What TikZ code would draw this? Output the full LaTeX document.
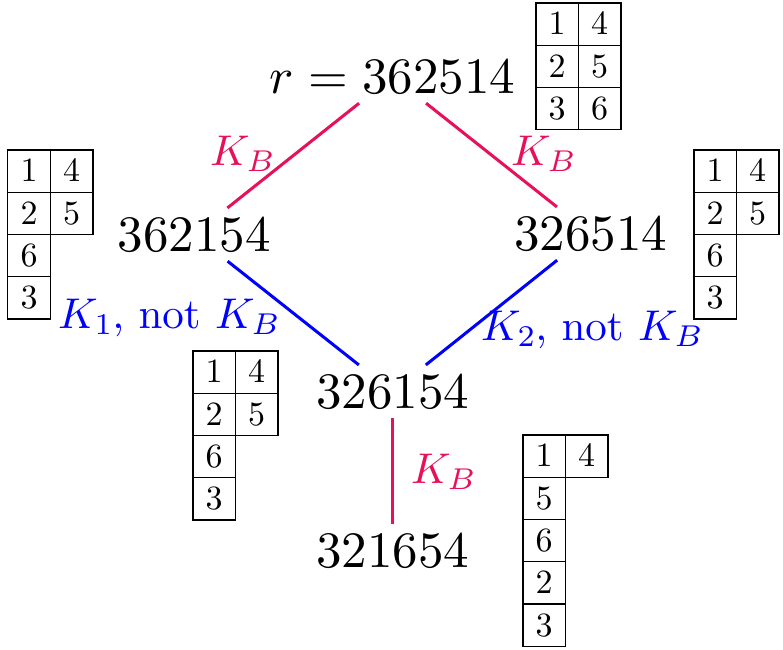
\documentclass[tikz,border=0pt]{standalone}
\usepackage[OT1]{fontenc}
\renewcommand\rmdefault{cmr}
\DeclareFontShape{OT1}{cmr}{m}{n}{<-32>cmr7<32->cmr10}{}
\DeclareFontShape{OML}{cmm}{m}{it}{<-32>cmmi7<32->cmmi10}{}
\DeclareFontShape{OMS}{cmsy}{m}{n}{<-32>cmsy7<32->cmsy10}{}
\DeclareFontShape{OMX}{cmex}{m}{n}{<->cmex10}{}
\usetikzlibrary{matrix}
\definecolor{kb}{RGB}{232,16,88}
\definecolor{kone}{RGB}{0,0,255}
\begin{document}
\begin{tikzpicture}[x=1pt,y=-1pt,
  main/.style={font=\fontsize{51}{60}\selectfont, inner sep=10pt, anchor=base},
  lab/.style={font=\fontsize{43}{50}\selectfont, inner sep=0pt, anchor=base west},
  cell/.style={draw, line width=1.3pt, minimum width=42.5pt, minimum height=42.3pt,
    inner sep=0pt, anchor=center, font=\fontsize{34}{40}\selectfont},
  tab/.style={matrix of nodes, nodes={cell}, column sep=-1.3pt, row sep=-1.3pt,
    anchor=north west, inner sep=0pt},
  edgeline/.style={line width=3pt}]
\useasboundingbox (0,0) rectangle (783,649);

% main words
\node[main] (top)    at (392.5,93)  {$r = 362514$};
\node[main] (left)   at (194,251)   {362154};
\node[main] (right)  at (590.5,250) {326514};
\node[main] (mid)    at (392.5,408) {326154};
\node[main] (bottom) at (392.5,567) {321654};

% tableaux
\matrix[tab] (t0) at (535,2)   {1 & 4 \\ 2 & 5 \\ 3 & 6 \\};
\matrix[tab] (t1) at (7,149)   {1 & 4 \\ 2 & 5 \\ 6 & \\ 3 & \\};
\matrix[tab] (t2) at (693,149) {1 & 4 \\ 2 & 5 \\ 6 & \\ 3 & \\};
\matrix[tab] (t3) at (192,350) {1 & 4 \\ 2 & 5 \\ 6 & \\ 3 & \\};
\matrix[tab] (t4) at (522,434) {1 & 4 \\ 5 & \\ 6 & \\ 2 & \\ 3 & \\};

% connectors
\draw[edgeline,kb] (top) -- (left);
\draw[edgeline,kb] (top) -- (right);
\draw[edgeline,kone] (left) -- (mid);
\draw[edgeline,kone] (right) -- (mid);
\draw[edgeline,kb] (mid) -- (bottom);

% labels
\node[lab,text=kb] (l1) at (210,165) {$K_B$};
\node[lab,text=kb] (l2) at (511,165) {$K_B$};
\node[lab,text=kone] (l3) at (58,328) {$K_1$, not $K_B$};
\node[lab,text=kone] (l4) at (481,340) {$K_2$, not $K_B$};
\node[lab,text=kb] (l5) at (411,483) {$K_B$};
\end{tikzpicture}
\end{document}
